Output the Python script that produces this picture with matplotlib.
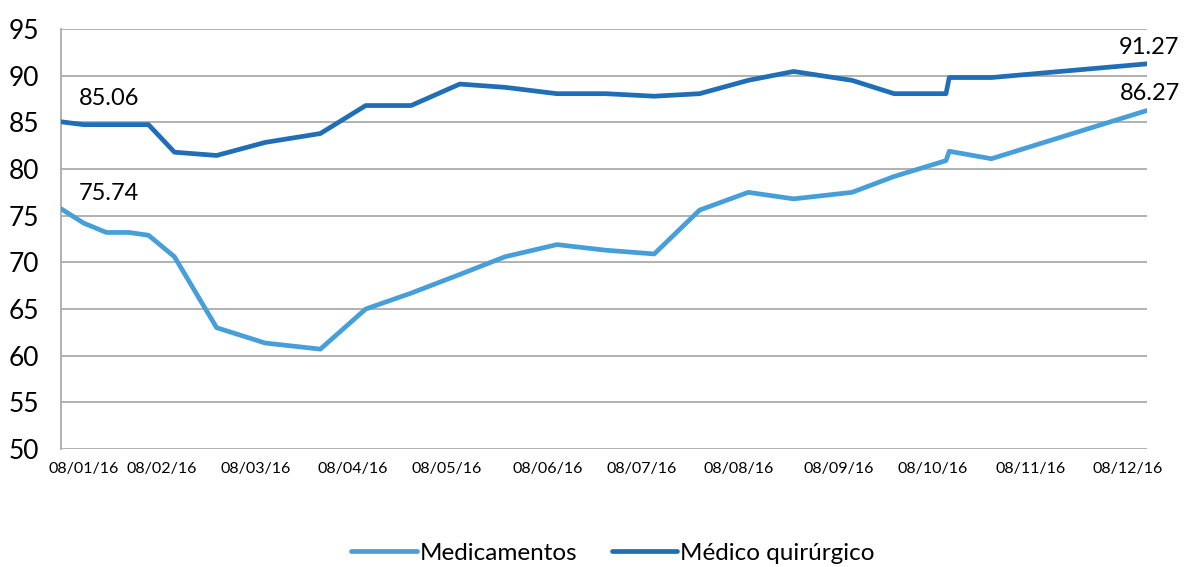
import pandas as pd
from matplotlib import pyplot as plt

plt.rcParams['font.family'] = ['Lato', 'DejaVu Sans']

dates = ['2016-01-08', '2016-01-15', '2016-01-22', '2016-01-29', '2016-02-04',
         '2016-02-12', '2016-02-25', '2016-03-11', '2016-03-28', '2016-04-11',
         '2016-04-25', '2016-05-10', '2016-05-24', '2016-06-09', '2016-06-24',
         '2016-07-09', '2016-07-23', '2016-08-07', '2016-08-21', '2016-09-08',
         '2016-09-21', '2016-10-07', '2016-10-08', '2016-10-21', '2016-12-08']

medicamentos = [75.74, 74.2, 73.2, 73.2, 72.9,
                70.6, 63.0, 61.35, 60.7, 65.0,
                66.7, 68.7, 70.6, 71.9, 71.3,
                70.9, 75.6, 77.5, 76.8, 77.5,
                79.2, 80.9, 81.9, 81.1, 86.27]

medico_quirurgico = [85.06, 84.75, 84.75, 84.75, 84.75,
                     81.8, 81.45, 82.85, 83.8, 86.8,
                     86.8, 89.1, 88.75, 88.07, 88.07,
                     87.8, 88.07, 89.5, 90.45, 89.5,
                     88.07, 88.07, 89.8, 89.8, 91.27]

tick_dates = ['2016-01-15', '2016-02-08', '2016-03-08', '2016-04-07', '2016-05-06',
              '2016-06-06', '2016-07-05', '2016-08-04', '2016-09-04', '2016-10-03',
              '2016-11-02', '2016-12-02']
tick_labels = ['08/01/16', '08/02/16', '08/03/16', '08/04/16', '08/05/16', '08/06/16',
               '08/07/16', '08/08/16', '08/09/16', '08/10/16', '08/11/16', '08/12/16']

x = pd.to_datetime(dates)

fig = plt.figure(figsize=(11.89, 5.67), dpi=100)
ax = fig.add_axes([61/1189, 1 - 449/567, (1147 - 61)/1189, (449 - 29)/567])

c_med = '#469FD9'
c_mq = '#1F6EB6'

ax.plot(x, medicamentos, color=c_med, lw=3.4, solid_capstyle='round',
        solid_joinstyle='round', label='Medicamentos', zorder=3)
ax.plot(x, medico_quirurgico, color=c_mq, lw=3.4, solid_capstyle='round',
        solid_joinstyle='round', label='Médico quirúrgico', zorder=3)

ax.set_xlim(x[0], x[-1])
ax.set_ylim(50, 95)
ax.set_yticks(range(50, 96, 5))
ax.set_xticks(pd.to_datetime(tick_dates))
ax.set_xticklabels(tick_labels, fontsize=11.5)
ax.tick_params(axis='y', labelsize=19, length=0, pad=16)
ax.tick_params(axis='x', length=0, pad=9)

ax.grid(axis='y', color='#ABABAB', lw=1.3)
ax.set_axisbelow(True)
for s in ['top', 'right', 'bottom']:
    ax.spines[s].set_visible(False)
ax.spines['left'].set_color('#ABABAB')
ax.spines['left'].set_linewidth(1.3)

# data labels at first and last points
for series, offs in [(medicamentos, [(48, 15), (3, 17)]),
                     (medico_quirurgico, [(48, 23), (2, 16)])]:
    ax.annotate(f'{series[0]:.2f}', (x[0], series[0]), xytext=offs[0],
                textcoords='offset pixels', ha='center', va='center', fontsize=17)
    ax.annotate(f'{series[-1]:.2f}', (x[-1], series[-1]), xytext=offs[1],
                textcoords='offset pixels', ha='center', va='center', fontsize=17,
                annotation_clip=False)

fig.legend(loc='center', bbox_to_anchor=(613/1189, 1 - 553/567), ncol=2,
           frameon=False, fontsize=17.5, handlelength=2.7, handletextpad=0.12,
           columnspacing=1.4)

plt.savefig('out.png', dpi=100)
